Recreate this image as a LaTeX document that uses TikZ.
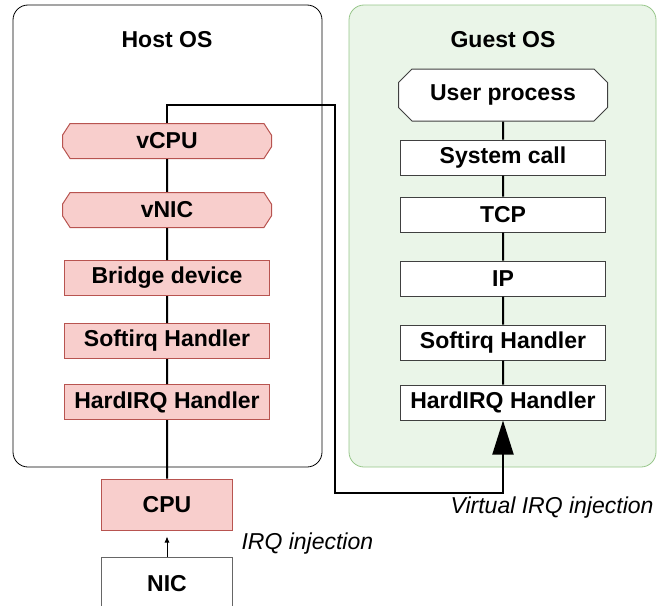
\documentclass[tikz,border=0pt]{standalone}
\usepackage{fontspec}
\setmainfont{Liberation Sans}
\usepackage{tikz}
\usetikzlibrary{shapes, arrows.meta, positioning}
\usepackage{xcolor}
\definecolor{hostfill}{HTML}{F8CECC}
\definecolor{hostline}{HTML}{B85450}
\definecolor{guestfill}{HTML}{EAF5E8}
\definecolor{guestline}{HTML}{97C68A}

\tikzset{
  hostbox/.style={draw=hostline, fill=hostfill, line width=1pt, inner sep=0pt, minimum width=205pt, minimum height=35pt},
  hostoct/.style={hostbox, chamfered rectangle, chamfered rectangle xsep=20pt, chamfered rectangle angle=33, minimum width=209pt},
  guestbox/.style={draw=black!75, fill=white, line width=1pt, inner sep=0pt, minimum width=205pt, minimum height=35pt},
  guestoct/.style={guestbox, chamfered rectangle, chamfered rectangle xsep=10pt, minimum width=209pt, minimum height=52pt},
  link/.style={line width=2pt},
  note/.style={font=\fontsize{23}{27}\selectfont\itshape}
}

\begin{document}
\begin{tikzpicture}[x=1pt, y=-1pt, font=\fontsize{23}{27}\selectfont\bfseries]
    \useasboundingbox (0,0) rectangle (658,605);
    % the two systems
    \node[draw, rounded corners=15pt, line width=0.8pt, minimum width=309pt, minimum height=462pt] (host) at (167.5,236) {};
    \node[draw=guestline, fill=guestfill, rounded corners=15pt, line width=0.8pt, minimum width=307pt, minimum height=462pt] (guest) at (502.5,236) {};
    \node (hosttitle) at (167,40) {Host OS};
    \node (guesttitle) at (503,40) {Guest OS};

    % host side
    \node[hostoct] (vcpu) at (167,141) {vCPU};
    \node[hostoct, below=33pt of vcpu] (vnic) {vNIC};
    \node[hostbox, below=32pt of vnic] (bridge) {Bridge device};
    \node[hostbox, below=27pt of bridge] (hsoft) {Softirq Handler};
    \node[hostbox, below=25pt of hsoft] (hhard) {HardIRQ Handler};
    \node[hostbox, minimum width=131pt, minimum height=51pt, below=58.5pt of hhard] (cpu) {CPU};
    \node[draw=black!60, fill=white, line width=1pt, minimum width=131pt, minimum height=54pt, below=26pt of cpu] (nic) {NIC};

    % guest side
    \node[guestoct] (user) at (503,95) {User process};
    \node[guestbox, below=18pt of user] (syscall) {System call};
    \node[guestbox, below=21pt of syscall] (tcp) {TCP};
    \node[guestbox, below=28pt of tcp] (ip) {IP};
    \node[guestbox, below=28pt of ip] (gsoft) {Softirq Handler};
    \node[guestbox, below=24pt of gsoft] (ghard) {HardIRQ Handler};

    \draw[link] (vcpu) -- (vnic) -- (bridge) -- (hsoft) -- (hhard) -- (cpu);
    \draw[link] (user) -- (syscall) -- (tcp) -- (ip) -- (gsoft) -- (ghard);

    % virtual irq path
    \coordinate (topbend) at (335,105);
    \coordinate (lowbend) at (335,493);
    \draw[link, -{Triangle[length=34pt, width=21pt]}] (vcpu.north) |- (topbend) -- (lowbend) -| (ghard.south);
    \draw[line width=0.8pt, -{Latex[length=6pt, width=5pt]}, shorten >=6pt] (nic) -- (cpu);

    \node[note, anchor=west] (irqnote) at (238,544) {IRQ injection};
    \node[note, anchor=east] (virqnote) at (657,508) {Virtual IRQ injection};
\end{tikzpicture}
\end{document}
